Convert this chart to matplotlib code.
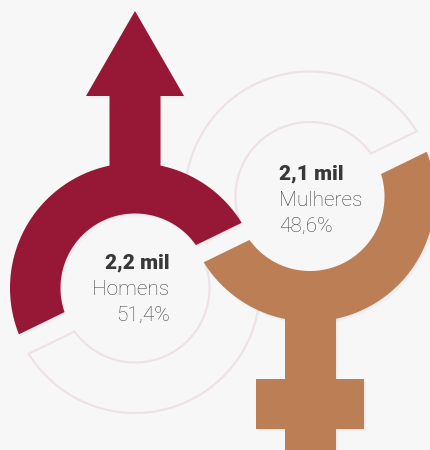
import numpy as np
import matplotlib
matplotlib.use("Agg")
import matplotlib.pyplot as plt
from matplotlib.patches import Polygon

# Data
groups = ["Homens", "Mulheres"]
counts = ["2,2 mil", "2,1 mil"]
shares = [51.4, 48.6]
share_labels = ["51,4%", "48,6%"]

# Style / geometry
BG = "#f7f7f7"
RED = "#971736"
ORANGE = "#BC7E54"
GHOST = "#EFE2E6"
DARK = "#383838"
GREY = "#444444"
R_IN, R_OUT, R_MID = 74.5, 125.0, 100.0
CUT = np.radians(26.0)
LEFT_C = (135.0, 288.0)
RIGHT_C = (310.0, 196.5)
RED_START = 32.8          # degrees, counter-clockwise
ORANGE_START = 213.2
RED_PER_PCT = 167.9 / shares[0]
ORANGE_PER_PCT = 166.5 / shares[1]


def edge_angle(a_deg, r):
    """Angle where the straight cut through the mid-radius point meets radius r."""
    a = np.radians(a_deg)
    p = R_MID * np.array([np.cos(a), np.sin(a)])
    d = np.array([np.cos(CUT), np.sin(CUT)])
    b = p @ d
    c = p @ p - r * r
    ts = [-b + np.sqrt(b * b - c), -b - np.sqrt(b * b - c)]
    t = min(ts, key=abs)
    q = p + t * d
    out = np.degrees(np.arctan2(q[1], q[0]))
    while out < a_deg - 90:
        out += 360
    while out > a_deg + 90:
        out -= 360
    return out


def ring_points(center, start, sweep):
    cx, cy = center
    end = start + sweep
    a_o = np.radians(np.linspace(edge_angle(start, R_OUT), edge_angle(end, R_OUT), 200))
    a_i = np.radians(np.linspace(edge_angle(end, R_IN), edge_angle(start, R_IN), 200))
    xs = np.r_[cx + R_OUT * np.cos(a_o), cx + R_IN * np.cos(a_i)]
    ys = np.r_[cy - R_OUT * np.sin(a_o), cy - R_IN * np.sin(a_i)]
    return np.c_[xs, ys]


fig = plt.figure(figsize=(4.31, 4.5), dpi=100, facecolor=BG)
ax = fig.add_axes([0, 0, 1, 1])
ax.set_xlim(0, 431)
ax.set_ylim(450, 0)
ax.axis("off")

red_sweep = shares[0] * RED_PER_PCT
orange_sweep = shares[1] * ORANGE_PER_PCT

# Ghost outlines
ax.add_patch(Polygon(ring_points(LEFT_C, ORANGE_START, orange_sweep), closed=True,
                     fc="none", ec=GHOST, lw=1.6, zorder=1))
ax.add_patch(Polygon(ring_points(RIGHT_C, RED_START, red_sweep), closed=True,
                     fc="none", ec=GHOST, lw=1.6, zorder=1))


def solid(pts, color):
    pts = np.asarray(pts, dtype=float)
    for off in (0.8, 1.6, 2.4, 3.2):
        ax.add_patch(Polygon(pts + [off * 0.8, off], closed=True, fc="k", ec="none",
                             alpha=0.012, zorder=1.5))
    ax.add_patch(Polygon(pts, closed=True, fc=color, ec="none", zorder=2))


# Male symbol
lx = LEFT_C[0]
solid([(lx - 25.5, 175), (lx - 25.5, 96), (lx - 49, 96), (lx, 11), (lx + 49, 96),
       (lx + 25.5, 96), (lx + 25.5, 175)], RED)
solid(ring_points(LEFT_C, RED_START, red_sweep), RED)

# Female symbol
rx = RIGHT_C[0] + 0.5
solid([(rx - 25.5, 310), (rx - 25.5, 378.5), (rx - 54, 378.5), (rx - 54, 429),
       (rx - 25.5, 429), (rx - 25.5, 451), (rx + 25.5, 451), (rx + 25.5, 429),
       (rx + 54, 429), (rx + 54, 378.5), (rx + 25.5, 378.5), (rx + 25.5, 310)], ORANGE)
solid(ring_points(RIGHT_C, ORANGE_START, orange_sweep), ORANGE)

# Labels
FS = 15
plt.rcParams["font.family"] = ["Roboto", "DejaVu Sans"]
label_x = [169.5, 279]
aligns = ["right", "left"]
baselines = [(269, 295, 320.5), (180, 205.5, 231.5)]
for i in range(2):
    y1, y2, y3 = baselines[i]
    ax.text(label_x[i], y1, counts[i], ha=aligns[i], va="baseline", fontsize=FS,
            fontweight="black", color=DARK, zorder=3)
    ax.text(label_x[i], y2, groups[i], ha=aligns[i], va="baseline", fontsize=FS,
            fontweight="light", color=GREY, zorder=3)
    ax.text(label_x[i], y3, share_labels[i], ha=aligns[i], va="baseline", fontsize=FS,
            fontweight="light", color=GREY, zorder=3)

fig.savefig("out.png", dpi=100, facecolor=BG)
